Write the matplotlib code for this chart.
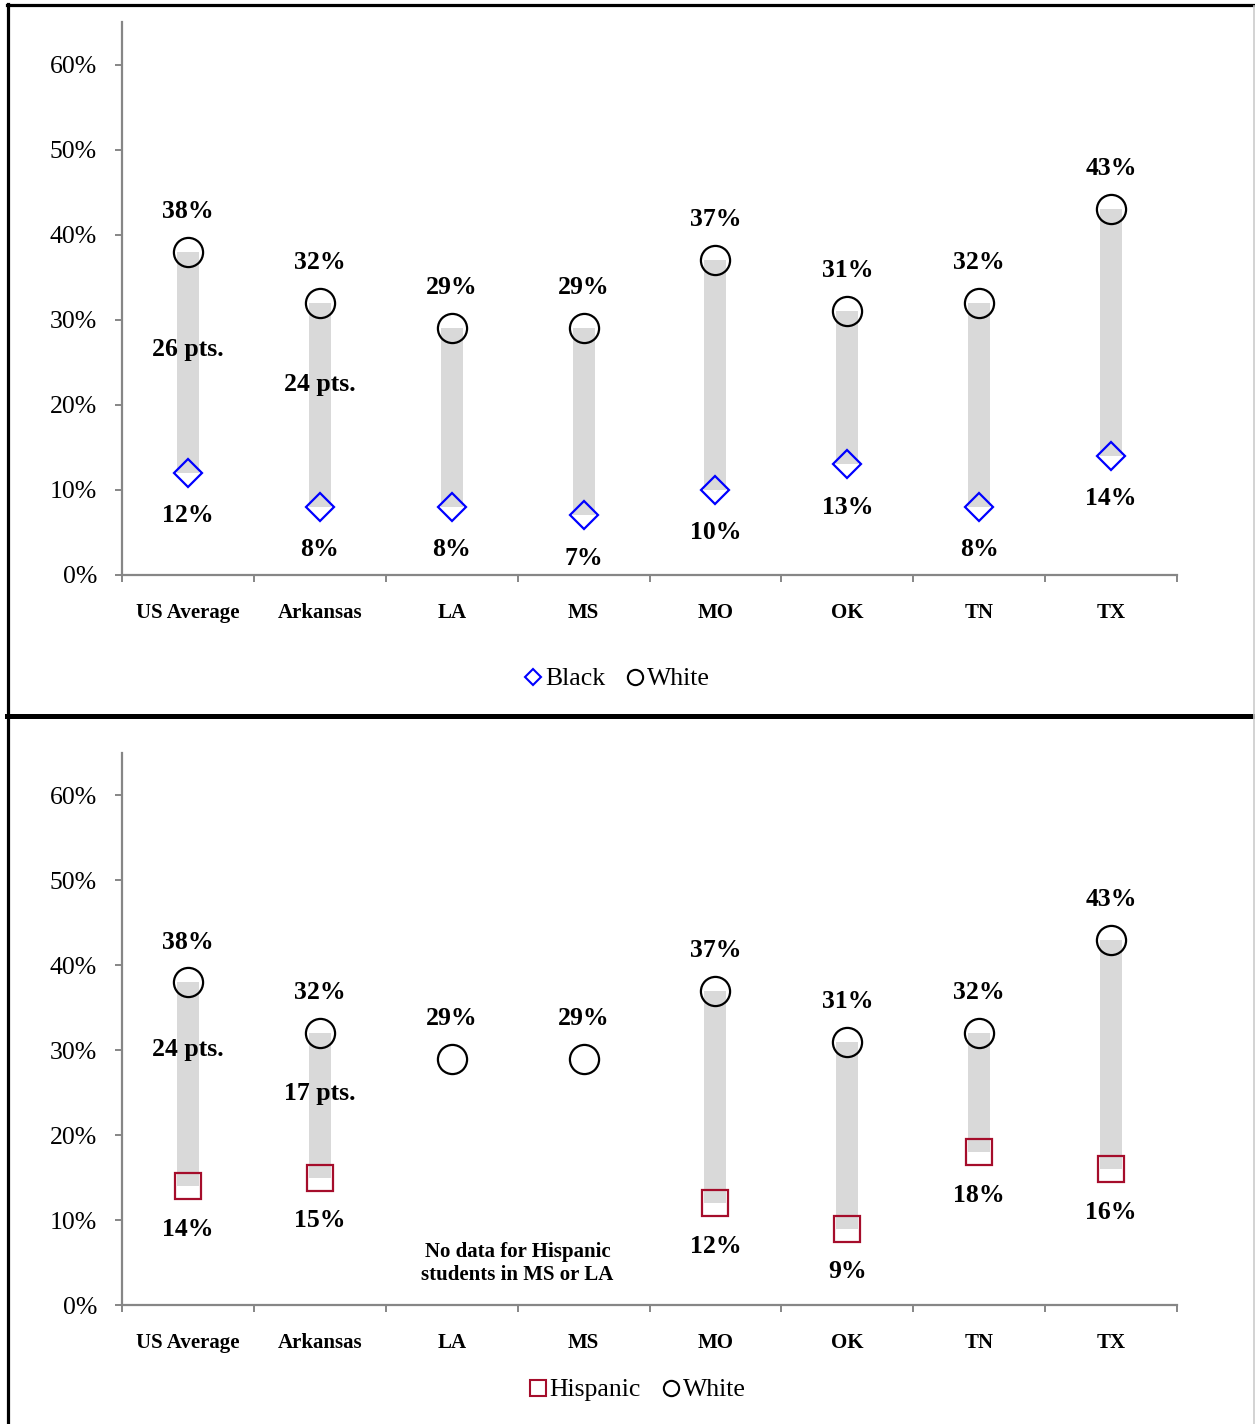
import matplotlib
matplotlib.use("Agg")
import matplotlib.pyplot as plt
from matplotlib.lines import Line2D

plt.rcParams["font.family"] = ["Liberation Serif", "DejaVu Serif"]

# ---- data ----
categories = ["US Average", "Arkansas", "LA", "MS", "MO", "OK", "TN", "TX"]
white = [38, 32, 29, 29, 37, 31, 32, 43]
black = [12, 8, 8, 7, 10, 13, 8, 14]
hispanic = [14, 15, None, None, 12, 9, 18, 16]

# gap callouts: (category index, label height in %)
black_gap_labels = [(0, 26.5), (1, 22.4)]
hisp_gap_labels = [(0, 30.1), (1, 24.9)]
yticks = [0, 10, 20, 30, 40, 50, 60]

W, H = 1255, 1424
fig = plt.figure(figsize=(W / 100, H / 100), dpi=100)

AXIS_GREY = "#868686"
BAR_GREY = "#d9d9d9"
BLUE = "#0000ff"
RED = "#a50d2b"


def make_axes(top_px, bottom_px):
    left, right = 122, 1177
    return fig.add_axes([left / W, 1 - bottom_px / H, (right - left) / W,
                         (bottom_px - top_px) / H])


def style_axes(ax):
    ax.set_xlim(-0.5, len(categories) - 0.5)
    ax.set_ylim(0, 65)
    for s in ("top", "right"):
        ax.spines[s].set_visible(False)
    for s in ("left", "bottom"):
        ax.spines[s].set_color(AXIS_GREY)
        ax.spines[s].set_linewidth(1.6)
    ax.set_yticks(yticks)
    ax.set_yticklabels([f"{v}%" for v in yticks], fontsize=18.5)
    ax.tick_params(axis="y", length=5, width=1.4, color=AXIS_GREY, pad=13)
    ax.set_xticks([i - 0.5 for i in range(len(categories) + 1)])
    ax.set_xticklabels([])
    ax.tick_params(axis="x", which="major", length=5, width=1.4, color=AXIS_GREY)
    ax.set_xticks(range(len(categories)), minor=True)
    ax.set_xticklabels(categories, minor=True, fontsize=15, fontweight="bold")
    ax.tick_params(axis="x", which="minor", length=0, pad=20)


def draw_panel(ax, low, low_marker, low_color, low_ms, gap_labels):
    style_axes(ax)
    for i, (hi, lo) in enumerate(zip(white, low)):
        if lo is not None:
            ax.bar(i, hi - lo, bottom=lo, width=0.167, color=BAR_GREY, zorder=1)
    xs = list(range(len(categories)))
    ax.plot(xs, white, linestyle="none", marker="o", markersize=21,
            markerfacecolor="none", markeredgecolor="black", markeredgewidth=1.6,
            zorder=3, clip_on=False)
    lx = [i for i, v in enumerate(low) if v is not None]
    ly = [v for v in low if v is not None]
    ax.plot(lx, ly, linestyle="none", marker=low_marker, markersize=low_ms,
            markerfacecolor="none", markeredgecolor=low_color, markeredgewidth=1.6,
            zorder=3)
    for i, v in enumerate(white):
        ax.annotate(f"{v}%", (i, v), xytext=(0, 29), textcoords="offset points",
                    ha="center", va="center", fontsize=18.5, fontweight="bold")
    for i, v in zip(lx, ly):
        ax.annotate(f"{v}%", (i, v), xytext=(0, -31), textcoords="offset points",
                    ha="center", va="center", fontsize=18.5, fontweight="bold")
    for i, y in gap_labels:
        ax.text(i, y, f"{white[i] - low[i]} pts.", ha="center", va="center",
                fontsize=18.5, fontweight="bold", zorder=4)


# top panel: Black vs White
ax1 = make_axes(22, 575)
draw_panel(ax1, black, "D", BLUE, 14.5, black_gap_labels)

# bottom panel: Hispanic vs White
ax2 = make_axes(753, 1305)
draw_panel(ax2, hispanic, "s", RED, 18.5, hisp_gap_labels)
ax2.text(3 - 0.5, 4.9, "No data for Hispanic\nstudents in MS or LA", ha="center",
         va="center", fontsize=15, fontweight="bold", linespacing=1.15)

# legends
leg_kw = dict(frameon=False, ncol=2, fontsize=18.5, handlelength=0.7,
              handletextpad=0.12, columnspacing=0.8, borderaxespad=0, loc="center")
h_black = Line2D([], [], linestyle="none", marker="D", markersize=8,
                 markerfacecolor="none", markeredgecolor=BLUE, markeredgewidth=1.5)
h_white = Line2D([], [], linestyle="none", marker="o", markersize=11,
                 markerfacecolor="none", markeredgecolor="black", markeredgewidth=1.5)
h_hisp = Line2D([], [], linestyle="none", marker="s", markersize=12,
                markerfacecolor="none", markeredgecolor=RED, markeredgewidth=1.5)
fig.legend([h_black, h_white], ["Black", "White"],
           bbox_to_anchor=(617 / W, 1 - 679 / H), **leg_kw)
fig.legend([h_hisp, h_white], ["Hispanic", "White"],
           bbox_to_anchor=(637 / W, 1 - 1390 / H), **leg_kw)

# panel frames
def hline(y_px, x0_px, x1_px, lw, color="black"):
    fig.add_artist(Line2D([x0_px / W, x1_px / W], [1 - y_px / H, 1 - y_px / H],
                          color=color, linewidth=lw, transform=fig.transFigure))


def vline(x_px, y0_px, y1_px, lw, color="black"):
    fig.add_artist(Line2D([x_px / W, x_px / W], [1 - y0_px / H, 1 - y1_px / H],
                          color=color, linewidth=lw, transform=fig.transFigure))


hline(5, 7, W, 2.3)
hline(716, 7, W, 3.6)
vline(8, 4, H, 2.3)
vline(W - 1, 6, H, 1.2, color="#cccccc")

fig.savefig("out.png", dpi=100)
